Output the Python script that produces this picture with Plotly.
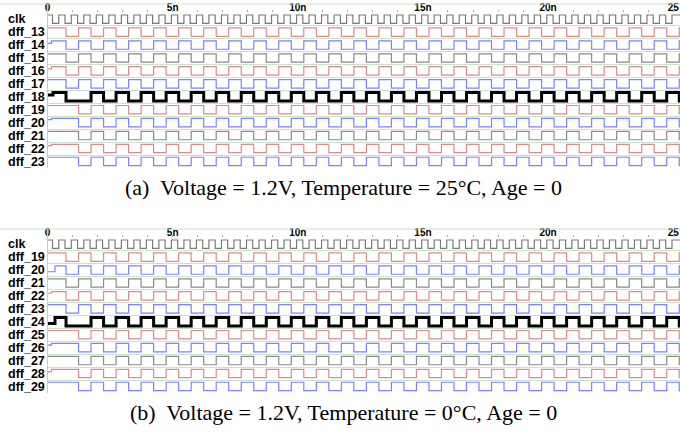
import plotly.graph_objects as go

# ---------------- data ----------------
T_END = 25.27            # visible time span (ns)
DFF_FIRST_EDGE = 0.74    # first possible dff toggle (ns)
DFF_HALF = 0.5           # dff slot width (ns)
CLK_FIRST_EDGE = 0.20
CLK_HALF = 0.25

tick_vals = [0, 5, 10, 15, 20, 25]
tick_text = ["0", "5n", "10n", "15n", "20n", "25"]

names_a = ["clk", "dff_13", "dff_14", "dff_15", "dff_16", "dff_17", "dff_18",
           "dff_19", "dff_20", "dff_21", "dff_22", "dff_23"]
names_b = ["clk", "dff_19", "dff_20", "dff_21", "dff_22", "dff_23", "dff_24",
           "dff_25", "dff_26", "dff_27", "dff_28", "dff_29"]

# clock: one bit per 0.25 ns slot (first slot runs from 0 to CLK_FIRST_EDGE)
clk_bits = ("1010101010101010101010101010101010101010101010101010"
            "1010101010101010101010101010101010101010101010101")

# dff outputs: one bit per 0.5 ns slot (first slot runs from 0 to DFF_FIRST_EDGE)
early = "101010101010101010101010101010101010101010101010101"
late = "110101010101010101010101010101010101010101010101010"
slip = "100101010101010101010101010101010101010101010101010"

bits_a = [early, early, early, early, early, slip,
          late, late, late, late, late]
bits_b = [early, early, early, early, early, slip,
          late, late, late, late, late]

# start-up level (fraction of swing) and how long it lasts (ns)
init_a = [None, (0.7, 0.16), None, (0.75, 0.16), None, (0.7, 0.22),
          None, (0.85, 0.16), None, (0.85, 0.16), None]
init_b = [None, (0.3, 0.30), None, (0.85, 0.16), None, (0.3, 0.30),
          None, (0.8, 0.16), None, (0.7, 0.16), None]

sig_colors = ["#d98c8c", "#7f7fff", "#8a8a8a", "#d98c8c", "#7f7fff", "#000000",
              "#d98c8c", "#7f7fff", "#8a8a8a", "#d98c8c", "#7f7fff"]
clk_color = "#7a7a7a"

caption_a = "(a)\u00a0 Voltage = 1.2V, Temperature = 25°C, Age = 0"
caption_b = "(b)\u00a0 Voltage = 1.2V, Temperature = 0°C, Age = 0"

# ---------------- geometry ----------------
W, H = 680, 432
X0 = 47.5
ROW_H = 12.93
PANEL_TOP = [12.8, 237.8]          # pixel top of clk row
HEADER_LINE = [4.0, 229.0]
CAPTION_Y = [188.0, 412.0]
N_ROWS = 12


def wave(bits, t0, half, init=None):
    xs, vs = [0.0], [int(bits[0])]
    if init is not None:
        lvl, dur = init
        xs, vs = [0.0, dur], [lvl, int(bits[0])]
    for k in range(1, len(bits)):
        t = t0 + half * (k - 1)
        if t > T_END:
            break
        xs.append(t)
        vs.append(int(bits[k]))
    xs.append(T_END)
    vs.append(vs[-1])
    return xs, vs


def to_y(row, vs):
    return [row + 0.17 + (1 - v) * 0.65 for v in vs]


fig = go.Figure()

panels = [(names_a, bits_a, init_a, "x", "y"), (names_b, bits_b, init_b, "x2", "y2")]
for names, bits, inits, xa, ya in panels:
    cx, cv = wave(clk_bits, CLK_FIRST_EDGE, CLK_HALF)
    fig.add_trace(go.Scatter(x=cx, y=to_y(0, cv), mode="lines", line_shape="hv",
                             line=dict(color=clk_color, width=1.2),
                             xaxis=xa, yaxis=ya, showlegend=False, hoverinfo="skip"))
    for i, b in enumerate(bits):
        xs, vs = wave(b, DFF_FIRST_EDGE, DFF_HALF, inits[i])
        thick = sig_colors[i] == "#000000"
        fig.add_trace(go.Scatter(x=xs, y=to_y(i + 1, vs), mode="lines", line_shape="hv",
                                 line=dict(color=sig_colors[i], width=3 if thick else 1.2),
                                 xaxis=xa, yaxis=ya, showlegend=False, hoverinfo="skip"))

GRID = "#c9e3c9"
layout = dict(width=W, height=H, margin=dict(l=0, r=0, t=0, b=0, autoexpand=False),
              paper_bgcolor="white", plot_bgcolor="white", showlegend=False)

annotations = []
shapes = []
for p, (names, ya, xa) in enumerate([(names_a, "y", "x"), (names_b, "y2", "x2")]):
    top = PANEL_TOP[p]
    bottom = top + N_ROWS * ROW_H
    dom = [1 - bottom / H, 1 - top / H]
    xkey = "xaxis" if p == 0 else "xaxis2"
    ykey = "yaxis" if p == 0 else "yaxis2"
    layout[xkey] = dict(domain=[X0 / W, 1], range=[0, T_END], anchor=ya, side="top",
                        automargin=False,
                        tickmode="array", tickvals=tick_vals, ticktext=tick_text,
                        ticks="outside", ticklen=2, tickcolor="#aaaaaa",
                        ticklabelstandoff=-5, ticklabeloverflow="allow",
                        tickfont=dict(family="Liberation Sans", size=10, color="black", weight="bold"),
                        minor=dict(dtick=1, ticks="outside", ticklen=2, tickcolor="#aaaaaa"),
                        showgrid=False, zeroline=False, showline=False, fixedrange=True)
    layout[ykey] = dict(domain=dom, range=[N_ROWS, 0], anchor=xa, automargin=False,
                        tickmode="array", tickvals=list(range(N_ROWS + 1)),
                        showticklabels=False, ticks="", showgrid=True, gridcolor=GRID,
                        gridwidth=1, zeroline=False, showline=True, linecolor="#b5d8b5",
                        linewidth=1, fixedrange=True)
    for r, nm in enumerate(names):
        annotations.append(dict(text=nm, x=6.5 / W, xref="paper", xanchor="left",
                                y=r + 0.5, yref=ya, yanchor="middle", showarrow=False,
                                borderpad=0,
                                font=dict(family="Liberation Sans", size=12.5, color="black",
                                          weight="bold")))
    shapes.append(dict(type="line", xref="paper", yref="paper", x0=0, x1=1,
                       y0=1 - HEADER_LINE[p] / H, y1=1 - HEADER_LINE[p] / H,
                       line=dict(color=GRID, width=1)))
    shapes.append(dict(type="line", xref="paper", yref="paper", x0=X0 / W, x1=X0 / W,
                       y0=1 - top / H, y1=1 - HEADER_LINE[p] / H,
                       line=dict(color="#b5d8b5", width=1)))

for p, cap in enumerate([caption_a, caption_b]):
    annotations.append(dict(text=cap, x=343 / W, xref="paper", xanchor="center",
                            y=1 - CAPTION_Y[p] / H, yref="paper", yanchor="middle",
                            showarrow=False,
                            font=dict(family="Liberation Serif", size=22, color="black")))

layout["annotations"] = annotations
layout["shapes"] = shapes
fig.update_layout(**layout)
fig.write_html("out.html", config={"displayModeBar": False},
               post_script="document.body.style.margin='0';"
                           "document.body.style.overflow='hidden';")
